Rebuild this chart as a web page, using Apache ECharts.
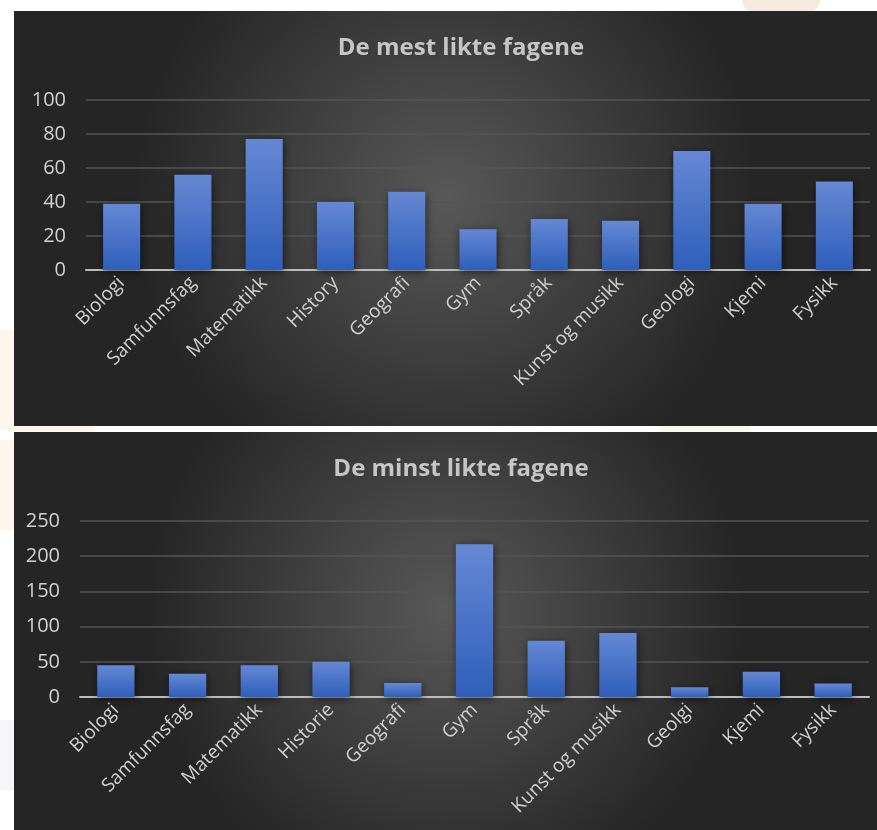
<!DOCTYPE html>
<html>
<head>
<meta charset="utf-8">
<script src="https://cdn.jsdelivr.net/npm/echarts@6/dist/echarts.min.js"></script>
<style>
  html, body { margin: 0; padding: 0; background: #ffffff; width: 877px; height: 830px; overflow: hidden; position: relative; }
  .panel { position: absolute; }
  #c1 { left: 14px; top: 11px; width: 863px; height: 415px; }
  #c2 { left: 14px; top: 432px; width: 863px; height: 398px; }
  .wm { position: absolute; }
</style>
</head>
<body>
<div class="wm" style="left:742px;top:0;width:78px;height:12px;background:#f6ebe0;border-radius:0 0 30px 30px;"></div>
<div class="wm" style="left:0;top:330px;width:14px;height:100px;background:#fef6ee;"></div>
<div class="wm" style="left:0;top:440px;width:14px;height:90px;background:#fef5ec;"></div>
<div class="wm" style="left:0;top:720px;width:14px;height:70px;background:#f6f6f9;"></div>
<div class="wm" style="left:660px;top:426px;width:90px;height:6px;background:#f8f9ee;"></div>
<div class="wm" style="left:14px;top:426px;width:80px;height:6px;background:#fef5ec;"></div>
<div id="c1" class="panel"></div>
<div id="c2" class="panel"></div>
<script>
// ---- Data ----
const titleTop = "De mest likte fagene";
const categoriesTop = ["Biologi", "Samfunnsfag", "Matematikk", "History", "Geografi", "Gym", "Språk", "Kunst og musikk", "Geologi", "Kjemi", "Fysikk"];
const valuesTop = [39, 56, 77, 40, 46, 24, 30, 29, 70, 39, 52];
const yTicksTop = { min: 0, max: 100, interval: 20 };

const titleBottom = "De minst likte fagene";
const categoriesBottom = ["Biologi", "Samfunnsfag", "Matematikk", "Historie", "Geografi", "Gym", "Språk", "Kunst og musikk", "Geolgi", "Kjemi", "Fysikk"];
const valuesBottom = [45, 33, 45, 50, 20, 217, 80, 91, 14, 36, 19];
const yTicksBottom = { min: 0, max: 250, interval: 50 };

const FONT = "'Open Sans', 'DejaVu Sans', sans-serif";

function bg() {
  return new echarts.graphic.RadialGradient(0.5, 0.45, 0.75, [
    { offset: 0, color: '#585858' },
    { offset: 1, color: '#252525' }
  ]);
}
function barColor() {
  return new echarts.graphic.LinearGradient(0, 0, 0, 1, [
    { offset: 0, color: '#6588d4' },
    { offset: 1, color: '#2e5fba' }
  ]);
}

function makeOption(title, cats, vals, ticks, grid) {
  return {
    backgroundColor: bg(),
    animation: false,
    title: {
      text: title,
      left: 442, top: 20,
      textAlign: 'center',
      textStyle: { color: '#c6c6c6', fontFamily: FONT, fontWeight: 'bold', fontSize: 24 }
    },
    grid: grid,
    xAxis: {
      type: 'category',
      data: cats,
      axisLine: { show: true, lineStyle: { color: '#bdbdbd', width: 2 } },
      axisTick: { show: false },
      axisLabel: { rotate: 45, color: '#d0d0d0', fontFamily: FONT, fontSize: 19, margin: 10, interval: 0 }
    },
    yAxis: {
      type: 'value',
      min: ticks.min, max: ticks.max, interval: ticks.interval,
      axisLine: { show: false },
      axisTick: { show: false },
      splitLine: { lineStyle: { color: '#555555', width: 1.5 } },
      axisLabel: { color: '#d0d0d0', fontFamily: FONT, fontSize: 20, margin: 20 }
    },
    series: [{
      type: 'bar',
      data: vals,
      barWidth: '52%',
      itemStyle: {
        color: barColor(),
        shadowColor: 'rgba(0,0,0,0.55)',
        shadowBlur: 8,
        shadowOffsetX: 1,
        shadowOffsetY: 2
      }
    }]
  };
}

const ch1 = echarts.init(document.getElementById('c1'), null, { renderer: 'canvas' });
ch1.setOption(makeOption(titleTop, categoriesTop, valuesTop, yTicksTop, { left: 72, right: 7, top: 89, bottom: 156 }));
const ch2 = echarts.init(document.getElementById('c2'), null, { renderer: 'canvas' });
ch2.setOption(makeOption(titleBottom, categoriesBottom, valuesBottom, yTicksBottom, { left: 66, right: 8, top: 89, bottom: 133 }));
</script>
</body>
</html>
